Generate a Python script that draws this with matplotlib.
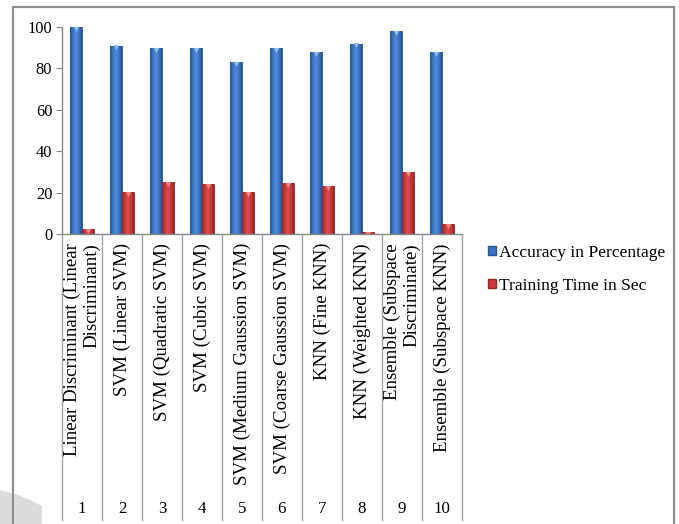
import matplotlib
matplotlib.use('Agg')
import matplotlib.pyplot as plt
from matplotlib.patches import Rectangle, Polygon
from matplotlib.colors import LinearSegmentedColormap
import matplotlib.transforms as mtrans
import numpy as np

plt.rcParams['font.family'] = ['Liberation Serif', 'DejaVu Serif']

categories = ["Linear Discriminant (Linear\nDiscriminant)", "SVM (Linear SVM)",
              "SVM (Quadratic SVM)", "SVM (Cubic SVM)", "SVM (Medium Gaussion SVM)",
              "SVM (Coarse Gaussion SVM)", "KNN (Fine KNN)", "KNN (Weighted KNN)",
              "Ensemble (Subspace\nDiscriminate)", "Ensemble (Subspace KNN)"]
numbers = ["1", "2", "3", "4", "5", "6", "7", "8", "9", "10"]
accuracy = [100, 91, 90, 90, 83, 90, 88, 92, 98, 88]
train_time = [2.4, 20.1, 25.0, 24.2, 20.1, 24.6, 23.3, 1.1, 30.1, 4.7]
series_names = ["Accuracy in Percentage", "Training Time in Sec"]
yticks = [0, 20, 40, 60, 80, 100]

W, H = 679, 524
fig = plt.figure(figsize=(W / 100, H / 100), dpi=100)
fig.patch.set_facecolor('white')

# page shadow blob at bottom-left
blob = Polygon([(0, 0), (0, 34 / H), (15 / W, 30 / H), (30 / W, 24 / H), (42 / W, 18 / H), (42 / W, 0)],
               closed=True, transform=fig.transFigure, facecolor='#dcdcdc', edgecolor='none', zorder=0)
fig.patches.append(blob)

# outer frame
frame = Rectangle((13 / W, -0.05), (674 - 13) / W, (H - 7) / H + 0.05, transform=fig.transFigure,
                  fill=False, edgecolor='#8f8f8f', linewidth=1.6, zorder=1)
fig.patches.append(frame)

ax = fig.add_axes([62 / W, (H - 234) / H, 400 / W, 207 / H])
ax.set_facecolor('none')

x = np.arange(1, len(categories) + 1)
bw = 0.3
blue = '#3a70c2'
red = '#c9373a'
blue_cmap = LinearSegmentedColormap.from_list('b', ['#24528f', '#3d75c6', '#4f8ad8', '#3d75c6', '#24528f'])
red_cmap = LinearSegmentedColormap.from_list('r', ['#98262a', '#c8383b', '#dc4d4f', '#c8383b', '#98262a'])
grad = np.linspace(0, 1, 64).reshape(1, -1)

def draw_bars(xs, vals, color, edge, cmap, tipcolor):
    bars = ax.bar(xs, vals, width=bw, align='edge', color=color, edgecolor=edge, linewidth=0.6, zorder=3)
    for b in bars:
        x0, w, h = b.get_x(), b.get_width(), b.get_height()
        im = ax.imshow(grad, cmap=cmap, aspect='auto', extent=(x0, x0 + w, 0, h), zorder=3.5,
                       interpolation='bilinear')
        im.set_clip_path(b)
    ax.scatter(np.asarray(xs) + bw / 2, np.asarray(vals) - 0.9, marker='v', s=14, color=tipcolor,
               zorder=4, linewidths=0)

draw_bars(x - bw, accuracy, blue, '#2a5596', blue_cmap, '#8fc0f0')
draw_bars(x, train_time, red, '#9a2628', red_cmap, '#f08a8a')

ax.set_xlim(0.5, len(categories) + 0.5)
ax.set_ylim(0, 100)
ax.set_yticks(yticks)
ax.set_yticklabels([str(t) for t in yticks], fontsize=11.8)
ax.tick_params(axis='y', direction='out', length=4, color='#868686', pad=3)
ax.set_xticks([])
for s in ['top', 'right']:
    ax.spines[s].set_visible(False)
for s in ['left', 'bottom']:
    ax.spines[s].set_color('#868686')
    ax.spines[s].set_linewidth(1.0)
    ax.spines[s].set_zorder(5)

trans = mtrans.blended_transform_factory(ax.transData, ax.transAxes)
axh = 207.0
y_top_label = -9 / axh
y_num = (234 - 509) / axh
y_sep_bottom = (234 - 520) / axh
for xi in np.arange(0.5, len(categories) + 1, 1.0):
    ax.plot([xi, xi], [0, y_sep_bottom], transform=trans, color='#a6a6a6', lw=1.0, clip_on=False)
for xi, lab, num in zip(x, categories, numbers):
    ax.text(xi, y_top_label, lab, transform=trans, rotation=90, ha='center', va='top',
            multialignment='right', fontsize=13.6, linespacing=1.15)
    ax.text(xi, y_num, num, transform=trans, ha='center', va='center', fontsize=12.2)

handles = [Rectangle((0, 0), 1, 1, facecolor=blue, edgecolor='#2a5596'),
           Rectangle((0, 0), 1, 1, facecolor=red, edgecolor='#9a2628')]
fig.legend(handles, series_names, loc='upper left', bbox_to_anchor=(488 / W, (H - 245) / H),
           frameon=False, fontsize=12.6, handlelength=0.45, handleheight=0.45,
           handletextpad=0.2, labelspacing=0.95, borderaxespad=0, borderpad=0)

fig.savefig('out.png', dpi=100)
